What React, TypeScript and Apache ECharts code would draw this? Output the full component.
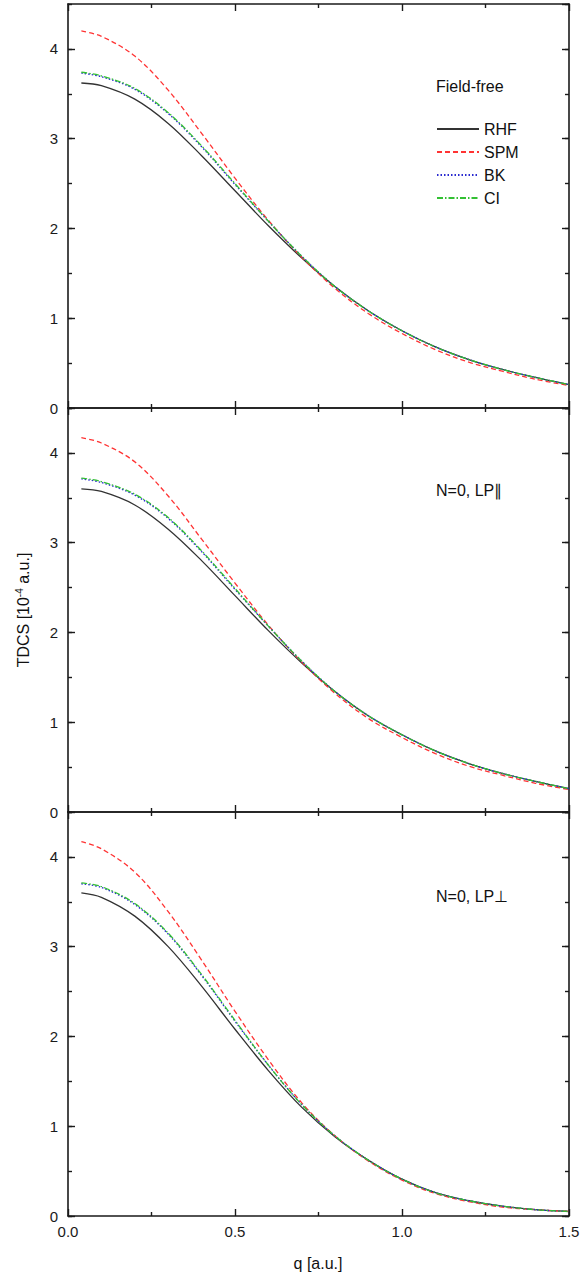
import React, { useEffect, useRef } from "react";
import * as echarts from "echarts";

// q values [a.u.]
const qValues = [0.04, 0.1, 0.2, 0.3, 0.4, 0.5, 0.6, 0.7, 0.8, 0.9, 1.0, 1.1, 1.2, 1.3, 1.4, 1.5];

// Panel 1: field-free
const ffRHF = [3.62, 3.59, 3.44, 3.17, 2.81, 2.42, 2.03, 1.67, 1.35, 1.08, 0.86, 0.68, 0.54, 0.43, 0.34, 0.26];
const ffSPM = [4.20, 4.14, 3.92, 3.54, 3.06, 2.56, 2.09, 1.68, 1.33, 1.05, 0.83, 0.65, 0.51, 0.41, 0.32, 0.25];
const ffBK = [3.73, 3.69, 3.55, 3.28, 2.91, 2.49, 2.08, 1.69, 1.35, 1.08, 0.86, 0.68, 0.54, 0.43, 0.34, 0.26];
const ffCI = [3.74, 3.70, 3.56, 3.29, 2.92, 2.50, 2.08, 1.69, 1.35, 1.08, 0.86, 0.68, 0.54, 0.43, 0.34, 0.26];

// Panel 2: N=0, LP parallel
const parRHF = [3.60, 3.57, 3.42, 3.15, 2.80, 2.41, 2.02, 1.66, 1.34, 1.07, 0.86, 0.68, 0.54, 0.43, 0.34, 0.26];
const parSPM = [4.17, 4.11, 3.90, 3.52, 3.04, 2.55, 2.08, 1.67, 1.32, 1.04, 0.83, 0.65, 0.51, 0.41, 0.32, 0.25];
const parBK = [3.71, 3.67, 3.53, 3.27, 2.90, 2.48, 2.07, 1.68, 1.34, 1.07, 0.86, 0.68, 0.54, 0.43, 0.34, 0.26];
const parCI = [3.72, 3.68, 3.54, 3.28, 2.91, 2.49, 2.07, 1.68, 1.34, 1.07, 0.86, 0.68, 0.54, 0.43, 0.34, 0.26];

// Panel 3: N=0, LP perpendicular
const perpRHF = [3.60, 3.55, 3.34, 3.00, 2.56, 2.08, 1.62, 1.21, 0.88, 0.62, 0.41, 0.26, 0.17, 0.11, 0.07, 0.05];
const perpSPM = [4.17, 4.09, 3.83, 3.39, 2.85, 2.28, 1.74, 1.26, 0.89, 0.61, 0.40, 0.25, 0.16, 0.10, 0.07, 0.05];
const perpBK = [3.70, 3.66, 3.47, 3.14, 2.68, 2.17, 1.68, 1.24, 0.89, 0.62, 0.41, 0.26, 0.17, 0.11, 0.07, 0.05];
const perpCI = [3.71, 3.67, 3.48, 3.15, 2.69, 2.18, 1.68, 1.24, 0.89, 0.62, 0.41, 0.26, 0.17, 0.11, 0.07, 0.05];

const xTickLabels = ["0.0", "0.5", "1.0", "1.5"];
const panelLabels = ["Field-free", "N=0, LP\u2225", "N=0, LP\u22A5"];
const seriesNames = ["RHF", "SPM", "BK", "CI"];

const FONT = "'Liberation Sans', Arial, Helvetica, sans-serif";
const AX = "#1a1a1a";

const styles: Record<string, any> = {
  RHF: { color: "#333333", width: 1.3, type: "solid" },
  SPM: { color: "#ff3333", width: 1.3, type: [5, 3] },
  BK: { color: "#2a2ad0", width: 1.4, type: [1.5, 2] },
  CI: { color: "#33c033", width: 1.3, type: [6, 2, 1.5, 2] },
};

export default function App() {
  const ref = useRef<HTMLDivElement>(null);
  useEffect(() => {
    document.body.style.margin = "0";
    const chart = echarts.init(ref.current!, null, { renderer: "svg" });
    const panels = [
      [ffRHF, ffSPM, ffBK, ffCI],
      [parRHF, parSPM, parBK, parCI],
      [perpRHF, perpSPM, perpBK, perpCI],
    ];
    const gridTop = [4, 408, 812];
    const gridH = 404;
    const grids = gridTop.map((t) => ({ left: 68, width: 501, top: t, height: gridH }));

    const xAxes: any[] = [];
    const yAxes: any[] = [];
    gridTop.forEach((_, i) => {
      ["bottom", "top"].forEach((pos) => {
        xAxes.push({
          type: "value",
          gridIndex: i,
          position: pos,
          min: 0,
          max: 1.5,
          interval: 0.5,
          axisLine: { show: true, onZero: false, lineStyle: { color: AX, width: 1.6 } },
          axisTick: { show: true, inside: true, length: 7, lineStyle: { color: AX, width: 1.4 } },
          minorTick: { show: true, splitNumber: 2, length: 4, lineStyle: { color: AX, width: 1.4 } },
          splitLine: { show: false },
          axisLabel: {
            show: pos === "bottom" && i === 2,
            margin: 8,
            fontSize: 15,
            fontFamily: FONT,
            color: AX,
            formatter: (v: number) => xTickLabels[Math.round(v / 0.5)] ?? "",
          },
        });
      });
      ["left", "right"].forEach((pos) => {
        yAxes.push({
          type: "value",
          gridIndex: i,
          position: pos,
          min: 0,
          max: 4.5,
          interval: 1,
          axisLine: { show: true, onZero: false, lineStyle: { color: AX, width: 1.6 } },
          axisTick: { show: true, inside: true, length: 7, lineStyle: { color: AX, width: 1.4 } },
          splitLine: { show: false },
          axisLabel: {
            show: pos === "left",
            showMaxLabel: false,
            margin: 10,
            fontSize: 15,
            fontFamily: FONT,
            color: AX,
            formatter: (v: number) => (Number.isInteger(v) ? String(v) : ""),
          },
        });
        yAxes.push({
          type: "value",
          gridIndex: i,
          position: pos,
          min: 0,
          max: 4.5,
          interval: 0.5,
          axisLine: { show: false, onZero: false },
          axisTick: { show: true, inside: true, length: 4, lineStyle: { color: AX, width: 1.4 } },
          splitLine: { show: false },
          axisLabel: { show: false },
        });
      });
    });

    const series: any[] = [];
    panels.forEach((arrs, i) => {
      arrs.forEach((vals, k) => {
        const name = seriesNames[k];
        series.push({
          type: "line",
          name,
          xAxisIndex: i * 2,
          yAxisIndex: i * 4,
          data: qValues.map((q, j) => [q, vals[j]]),
          symbol: "none",
          smooth: 0.35,
          lineStyle: styles[name],
          itemStyle: { color: styles[name].color },
          z: k === 2 ? 3 : k === 3 ? 4 : 2,
        });
      });
    });

    const annotTop = [87, 491, 897];

    chart.setOption({
      animation: false,
      grid: grids,
      xAxis: xAxes,
      yAxis: yAxes,
      series,
      legend: {
        data: seriesNames,
        orient: "vertical",
        left: 436,
        top: 121,
        itemWidth: 42,
        itemHeight: 10,
        itemGap: 7,
        padding: 0,
        selectedMode: false,
        itemStyle: { opacity: 0 },
        textStyle: { fontSize: 16, fontFamily: FONT, color: "#111", padding: [0, 0, 0, 0] },
      },
      graphic: [
        ...panelLabels.map((t, i) => ({
          type: "text",
          left: 436,
          top: annotTop[i] - 9,
          style: { text: t, fontSize: 16, fontFamily: FONT, fill: "#111" },
        })),
        {
          type: "text",
          x: 23,
          y: 610,
          rotation: Math.PI / 2,
          style: {
            text: "TDCS [10{s|-4} a.u.]",
            fontSize: 16,
            fontFamily: FONT,
            fill: "#111",
            align: "center",
            verticalAlign: "middle",
            rich: { s: { fontSize: 10, fontFamily: FONT, fill: "#111", verticalAlign: "top", lineHeight: 18 } },
          },
        },
        {
          type: "text",
          x: 318,
          y: 1263,
          style: {
            text: "q [a.u.]",
            fontSize: 16,
            fontFamily: FONT,
            fill: "#111",
            align: "center",
            verticalAlign: "middle",
          },
        },
      ],
    });
    return () => chart.dispose();
  }, []);
  return <div ref={ref} style={{ width: 585, height: 1275 }} />;
}
